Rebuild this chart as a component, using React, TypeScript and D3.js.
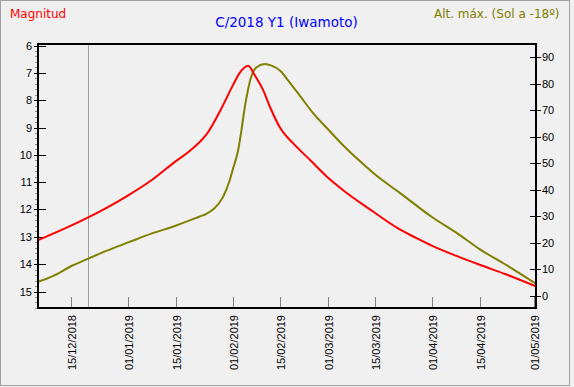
import React, { useEffect, useRef } from "react";
import * as d3 from "d3";

// magnitude (left axis)
const magDates = [
  "2018-12-05 00:00", "2018-12-20 00:00", "2019-01-01 00:00", "2019-01-08 00:00",
  "2019-01-15 00:00", "2019-01-19 00:00", "2019-01-22 00:00", "2019-01-24 00:00",
  "2019-01-29 00:00", "2019-02-01 00:00", "2019-02-03 00:00", "2019-02-05 12:00",
  "2019-02-07 12:00", "2019-02-10 00:00", "2019-02-12 00:00", "2019-02-15 00:00",
  "2019-02-19 00:00", "2019-02-24 00:00", "2019-03-01 00:00", "2019-03-06 00:00",
  "2019-03-13 00:00", "2019-03-15 00:00", "2019-03-17 07:00", "2019-03-22 00:00",
  "2019-03-27 05:00", "2019-04-01 00:00", "2019-04-08 00:00", "2019-04-15 00:00",
  "2019-04-23 00:00", "2019-05-01 12:00",
];
const magValues = [
  13.14, 12.3, 11.48, 10.92,
  10.24, 9.88, 9.55, 9.28,
  8.2, 7.45, 7.0, 6.74,
  7.1, 7.65, 8.26, 9.02,
  9.6, 10.21, 10.82, 11.33,
  11.95, 12.12, 12.32, 12.7,
  13.04, 13.33, 13.69, 14.02,
  14.38, 14.8,
];

// max altitude, sun at -18 (right axis)
const altDates = [
  "2018-12-05 00:00", "2018-12-10 00:00", "2018-12-15 12:00", "2018-12-20 00:00",
  "2018-12-25 12:00", "2019-01-01 00:00", "2019-01-08 00:00", "2019-01-15 00:00",
  "2019-01-22 00:00", "2019-01-24 00:00", "2019-01-26 06:00", "2019-01-29 00:00",
  "2019-01-31 00:00", "2019-02-01 00:00", "2019-02-02 12:00", "2019-02-03 12:00",
  "2019-02-04 12:00", "2019-02-05 12:00", "2019-02-06 12:00", "2019-02-08 00:00",
  "2019-02-10 12:00", "2019-02-12 10:00", "2019-02-15 00:00", "2019-02-17 10:00",
  "2019-02-20 19:00", "2019-02-24 19:00", "2019-03-01 00:00", "2019-03-05 14:00",
  "2019-03-12 10:00", "2019-03-15 00:00", "2019-03-22 05:00", "2019-04-01 00:00",
  "2019-04-08 00:00", "2019-04-15 00:00", "2019-04-23 19:00", "2019-05-01 12:00",
];
const altValues = [
  5.1, 7.6, 11.4, 13.9,
  16.9, 20.1, 23.5, 26.4,
  29.8, 30.8, 32.7, 37.1,
  43.4, 47.8, 54.7, 62.3,
  71.1, 78.0, 83.0, 86.2,
  87.4, 86.8, 84.9, 81.1,
  75.5, 68.8, 63.0, 56.8,
  48.7, 45.8, 39.0, 29.6,
  23.9, 17.6, 10.9, 4.7,
];

const magTicks = [6, 7, 8, 9, 10, 11, 12, 13, 14, 15];
const altTicks = [0, 10, 20, 30, 40, 50, 60, 70, 80, 90];
const dateTicks = [
  "2018-12-15", "2019-01-01", "2019-01-15", "2019-02-01", "2019-02-15",
  "2019-03-01", "2019-03-15", "2019-04-01", "2019-04-15", "2019-05-01",
];
const markerDate = "2018-12-20 00:00";

const W = 574, H = 387;
const plot = { left: 38, right: 536, top: 44, bottom: 308 };

const App = () => {
  const ref = useRef<SVGSVGElement>(null);

  useEffect(() => {
    const svg = d3.select(ref.current);
    svg.selectAll("*").remove();

    const parseDT = d3.timeParse("%Y-%m-%d %H:%M");
    const parseD = d3.timeParse("%Y-%m-%d");
    const fmt = d3.timeFormat("%d/%m/%Y");

    const x = d3.scaleTime()
      .domain([new Date(2018, 11, 5, 7), new Date(2019, 4, 1, 17)])
      .range([plot.left, plot.right]);
    const yMag = d3.scaleLinear().domain([6, 15]).range([45.5, 291.5]);
    const yAlt = d3.scaleLinear().domain([0, 90]).range([295.7, 57.2]);

    svg.append("rect").attr("width", W).attr("height", H).attr("fill", "#f0f0f0");
    svg.append("rect").attr("x", 0.5).attr("y", 0.5).attr("width", 569).attr("height", 385)
      .attr("fill", "none").attr("stroke", "#a0a0a0");

    // headers
    svg.append("text").attr("x", 10).attr("y", 18).attr("fill", "#ff0000")
      .style("font-family", "DejaVu Sans").style("font-size", "12px").text("Magnitud");
    svg.append("text").attr("x", 559.5).attr("y", 18).attr("fill", "#808000")
      .attr("text-anchor", "end")
      .style("font-family", "DejaVu Sans").style("font-size", "12px").text("Alt. máx. (Sol a -18º)");
    svg.append("text").attr("x", 286.5).attr("y", 27).attr("fill", "#0000ff")
      .attr("text-anchor", "middle")
      .style("font-family", "DejaVu Sans").style("font-size", "13.5px").text("C/2018 Y1 (Iwamoto)");

    const g = svg.append("g");

    // date ticks (inside, grey) and rotated labels
    dateTicks.forEach(d => {
      const xx = Math.round(x(parseD(d)!)) + 0.5;
      g.append("line").attr("x1", xx).attr("x2", xx).attr("y1", 297).attr("y2", 307)
        .attr("stroke", "#808080");
      g.append("text")
        .attr("transform", `translate(${xx + 4},315) rotate(-90)`)
        .attr("text-anchor", "end")
        .style("font-family", "Liberation Sans").style("font-size", "11px")
        .attr("fill", "#000").text(fmt(parseD(d)!));
    });

    // marker line
    const mx = Math.round(x(parseDT(markerDate)!)) + 0.5;
    g.append("line").attr("x1", mx).attr("x2", mx).attr("y1", plot.top).attr("y2", plot.bottom)
      .attr("stroke", "#a0a0a0");

    // left axis minor ticks
    d3.range(6, 15.61, 0.2).forEach(v => {
      const yy = Math.round(yMag(v)) + 0.5;
      g.append("line").attr("x1", 35).attr("x2", 38).attr("y1", yy).attr("y2", yy)
        .attr("stroke", "#909090");
    });
    // left axis
    magTicks.forEach(v => {
      const yy = Math.round(yMag(v)) + 0.5;
      g.append("line").attr("x1", 34).attr("x2", 46).attr("y1", yy).attr("y2", yy)
        .attr("stroke", "#000");
      g.append("text").attr("x", 32).attr("y", yy).attr("dy", "0.35em")
        .attr("text-anchor", "end")
        .style("font-family", "Liberation Sans").style("font-size", "11px")
        .attr("fill", "#000").text(v);
    });
    // right axis
    altTicks.forEach(v => {
      const yy = Math.round(yAlt(v)) + 0.5;
      g.append("line").attr("x1", 530).attr("x2", 541).attr("y1", yy).attr("y2", yy)
        .attr("stroke", "#000");
      g.append("text").attr("x", 542).attr("y", yy).attr("dy", "0.35em")
        .style("font-family", "Liberation Sans").style("font-size", "11px")
        .attr("fill", "#000").text(v);
    });

    // series
    const magData = magDates.map((d, i) => ({ date: parseDT(d)!, v: magValues[i] }));
    const altData = altDates.map((d, i) => ({ date: parseDT(d)!, v: altValues[i] }));

    svg.append("clipPath").attr("id", "plotclip").append("rect")
      .attr("x", plot.left).attr("y", plot.top)
      .attr("width", plot.right - plot.left).attr("height", plot.bottom - plot.top);

    const lineAlt = d3.line<{ date: Date; v: number }>()
      .x(d => x(d.date)).y(d => yAlt(d.v)).curve(d3.curveMonotoneX);
    const lineMag = d3.line<{ date: Date; v: number }>()
      .x(d => x(d.date)).y(d => yMag(d.v)).curve(d3.curveMonotoneX);

    g.append("path").datum(altData).attr("d", lineAlt).attr("fill", "none")
      .attr("stroke", "#808000").attr("stroke-width", 2).attr("clip-path", "url(#plotclip)");
    g.append("path").datum(magData).attr("d", lineMag).attr("fill", "none")
      .attr("stroke", "#ff0000").attr("stroke-width", 2).attr("clip-path", "url(#plotclip)");

    // frame
    g.append("rect").attr("x", plot.left).attr("y", plot.top)
      .attr("width", plot.right - plot.left).attr("height", plot.bottom - plot.top)
      .attr("fill", "none").attr("stroke", "#000").attr("stroke-width", 2);
  }, []);

  return (
    <svg ref={ref} width={W} height={H}
      style={{ position: "absolute", left: 0, top: 0, display: "block" }} />
  );
};

export default App;
